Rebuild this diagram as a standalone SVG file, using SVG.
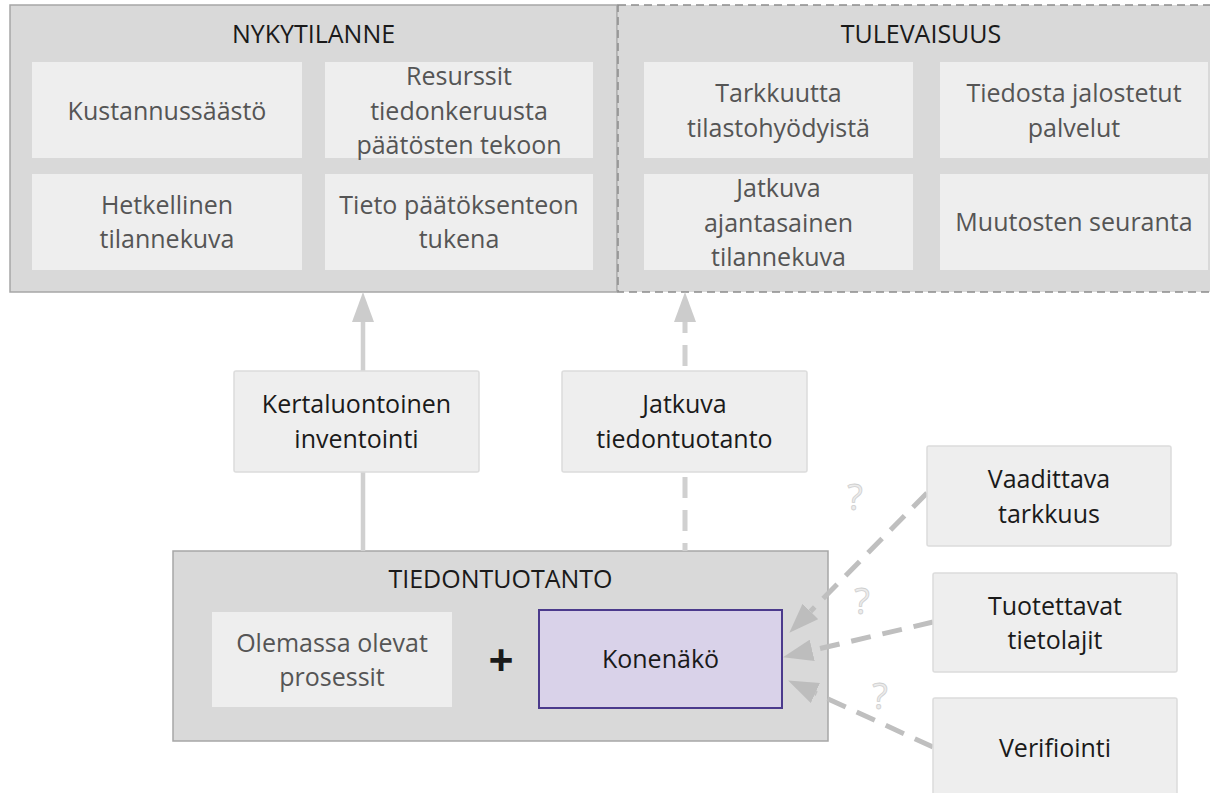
<svg xmlns="http://www.w3.org/2000/svg" width="1210" height="793" viewBox="0 0 1210 793">
  <style>
    text { font-family: "Open Sans", "Noto Sans", "DejaVu Sans", sans-serif; font-size: 25px; text-anchor: middle; }
    .title { fill: #1a1a1a; }
    .soft { fill: #555555; }
    .dark { fill: #1a1a1a; }
    .outer { fill: #d9d9d9; stroke: #a6a6a6; stroke-width: 1.5; }
    .outer-dash { fill: #d9d9d9; stroke: #8c8c8c; stroke-width: 1.5; stroke-dasharray: 8 5; }
    .inner { fill: #eeeeee; }
    .label { fill: #eeeeee; stroke: #dcdcdc; stroke-width: 1.5; }
    .vis { fill: #d9d2e9; stroke: #4b3a8c; stroke-width: 2; }
    .vconn { fill: none; stroke: #d0d0d0; stroke-width: 4.5; }
    .dconn { fill: none; stroke: #bfbfbf; stroke-width: 5; stroke-dasharray: 20 12; }
    .q { font-size: 36px; fill: #ececec; stroke: #cfcfcf; stroke-width: 0.8; }
  </style>
  <defs>
    <marker id="headV" markerUnits="userSpaceOnUse" markerWidth="30" markerHeight="22" refX="0" refY="11" orient="auto" viewBox="0 0 30 22">
      <path d="M0,0 L30,11 L0,22 z" fill="#cccccc"/>
    </marker>
    <marker id="headD" markerUnits="userSpaceOnUse" markerWidth="30" markerHeight="22" refX="0" refY="11" orient="auto" viewBox="0 0 30 22">
      <path d="M0,0 L30,11 L0,22 z" fill="#bdbdbd"/>
    </marker>
  </defs>

  <!-- NYKYTILANNE -->
  <g id="nykytilanne">
    <rect class="outer" x="10" y="5" width="607" height="287"/>
    <text class="title" x="313.5" y="43">NYKYTILANNE</text>
    <g id="kustannussaasto">
      <rect class="inner" x="32" y="62" width="270" height="96"/>
      <text class="soft" x="167" y="120">Kustannussäästö</text>
    </g>
    <g id="resurssit">
      <rect class="inner" x="325" y="62" width="268" height="96"/>
      <text class="soft"><tspan x="459" y="85">Resurssit</tspan><tspan x="459" y="119.5">tiedonkeruusta</tspan><tspan x="459" y="154">päätösten tekoon</tspan></text>
    </g>
    <g id="hetkellinen">
      <rect class="inner" x="32" y="174" width="270" height="96"/>
      <text class="soft"><tspan x="167" y="213.5">Hetkellinen</tspan><tspan x="167" y="248">tilannekuva</tspan></text>
    </g>
    <g id="tieto">
      <rect class="inner" x="325" y="174" width="268" height="96"/>
      <text class="soft"><tspan x="459" y="213.5">Tieto päätöksenteon</tspan><tspan x="459" y="248">tukena</tspan></text>
    </g>
  </g>

  <!-- TULEVAISUUS -->
  <g id="tulevaisuus">
    <rect class="outer-dash" x="618" y="5" width="607" height="287"/>
    <text class="title" x="921" y="43">TULEVAISUUS</text>
    <g id="tarkkuutta">
      <rect class="inner" x="644" y="62" width="269" height="96"/>
      <text class="soft"><tspan x="778.5" y="102">Tarkkuutta</tspan><tspan x="778.5" y="136.5">tilastohyödyistä</tspan></text>
    </g>
    <g id="tiedosta">
      <rect class="inner" x="940" y="62" width="268" height="96"/>
      <text class="soft"><tspan x="1074" y="102">Tiedosta jalostetut</tspan><tspan x="1074" y="136.5">palvelut</tspan></text>
    </g>
    <g id="jatkuva-tilannekuva">
      <rect class="inner" x="644" y="174" width="269" height="96"/>
      <text class="soft"><tspan x="778.5" y="197">Jatkuva</tspan><tspan x="778.5" y="231.5">ajantasainen</tspan><tspan x="778.5" y="266">tilannekuva</tspan></text>
    </g>
    <g id="muutosten">
      <rect class="inner" x="940" y="174" width="268" height="96"/>
      <text class="soft" x="1074" y="231">Muutosten seuranta</text>
    </g>
  </g>

  <!-- TIEDONTUOTANTO -->
  <g id="tiedontuotanto">
    <rect class="outer" x="173" y="551" width="655" height="190"/>
    <text class="title" x="500.5" y="588">TIEDONTUOTANTO</text>
    <g id="olemassa">
      <rect class="inner" x="212" y="612" width="240" height="95"/>
      <text class="soft"><tspan x="332" y="651.5">Olemassa olevat</tspan><tspan x="332" y="686">prosessit</tspan></text>
    </g>
    <text class="dark" x="501" y="676" style="font-size:44px;font-weight:700">+</text>
    <g id="konenako">
      <rect class="vis" x="539" y="610" width="243" height="98"/>
      <text class="dark" x="660.5" y="668">Konenäkö</text>
    </g>
  </g>

  <!-- connectors -->
  <g id="connectors">
    <path class="vconn" d="M363,551 V322" marker-end="url(#headV)"/>
    <path class="vconn" d="M685,322 V551" style="stroke-dasharray:21 12;stroke-dashoffset:10;stroke-width:5"/>
    <path d="M685,330 V322" fill="none" stroke="none" marker-end="url(#headV)"/>
    <path class="dconn" d="M927,493 L810.4,611.4" marker-end="url(#headD)"/>
    <path class="dconn" d="M933,622 L812.2,650.4" marker-end="url(#headD)"/>
    <path class="dconn" d="M933,747 L815.4,693.1" marker-end="url(#headD)"/>
    <text class="q" x="855" y="510">?</text>
    <text class="q" x="862" y="614">?</text>
    <text class="q" x="880" y="709">?</text>
  </g>

  <!-- middle labels -->
  <g id="kertaluontoinen">
    <rect class="label" x="234" y="371" width="245" height="101" rx="2"/>
    <text class="dark"><tspan x="356.5" y="413">Kertaluontoinen</tspan><tspan x="356.5" y="447.5">inventointi</tspan></text>
  </g>
  <g id="jatkuva-tiedontuotanto">
    <rect class="label" x="562" y="371" width="245" height="101" rx="2"/>
    <text class="dark"><tspan x="684.5" y="413">Jatkuva</tspan><tspan x="684.5" y="447.5">tiedontuotanto</tspan></text>
  </g>

  <!-- right boxes -->
  <g id="vaadittava">
    <rect class="label" x="927" y="446" width="244" height="100" rx="2"/>
    <text class="dark"><tspan x="1049" y="488">Vaadittava</tspan><tspan x="1049" y="522.5">tarkkuus</tspan></text>
  </g>
  <g id="tuotettavat">
    <rect class="label" x="933" y="573" width="244" height="99" rx="2"/>
    <text class="dark"><tspan x="1055" y="614.5">Tuotettavat</tspan><tspan x="1055" y="649">tietolajit</tspan></text>
  </g>
  <g id="verifiointi">
    <rect class="label" x="933" y="698" width="244" height="100" rx="2"/>
    <text class="dark" x="1055" y="757">Verifiointi</text>
  </g>
</svg>
